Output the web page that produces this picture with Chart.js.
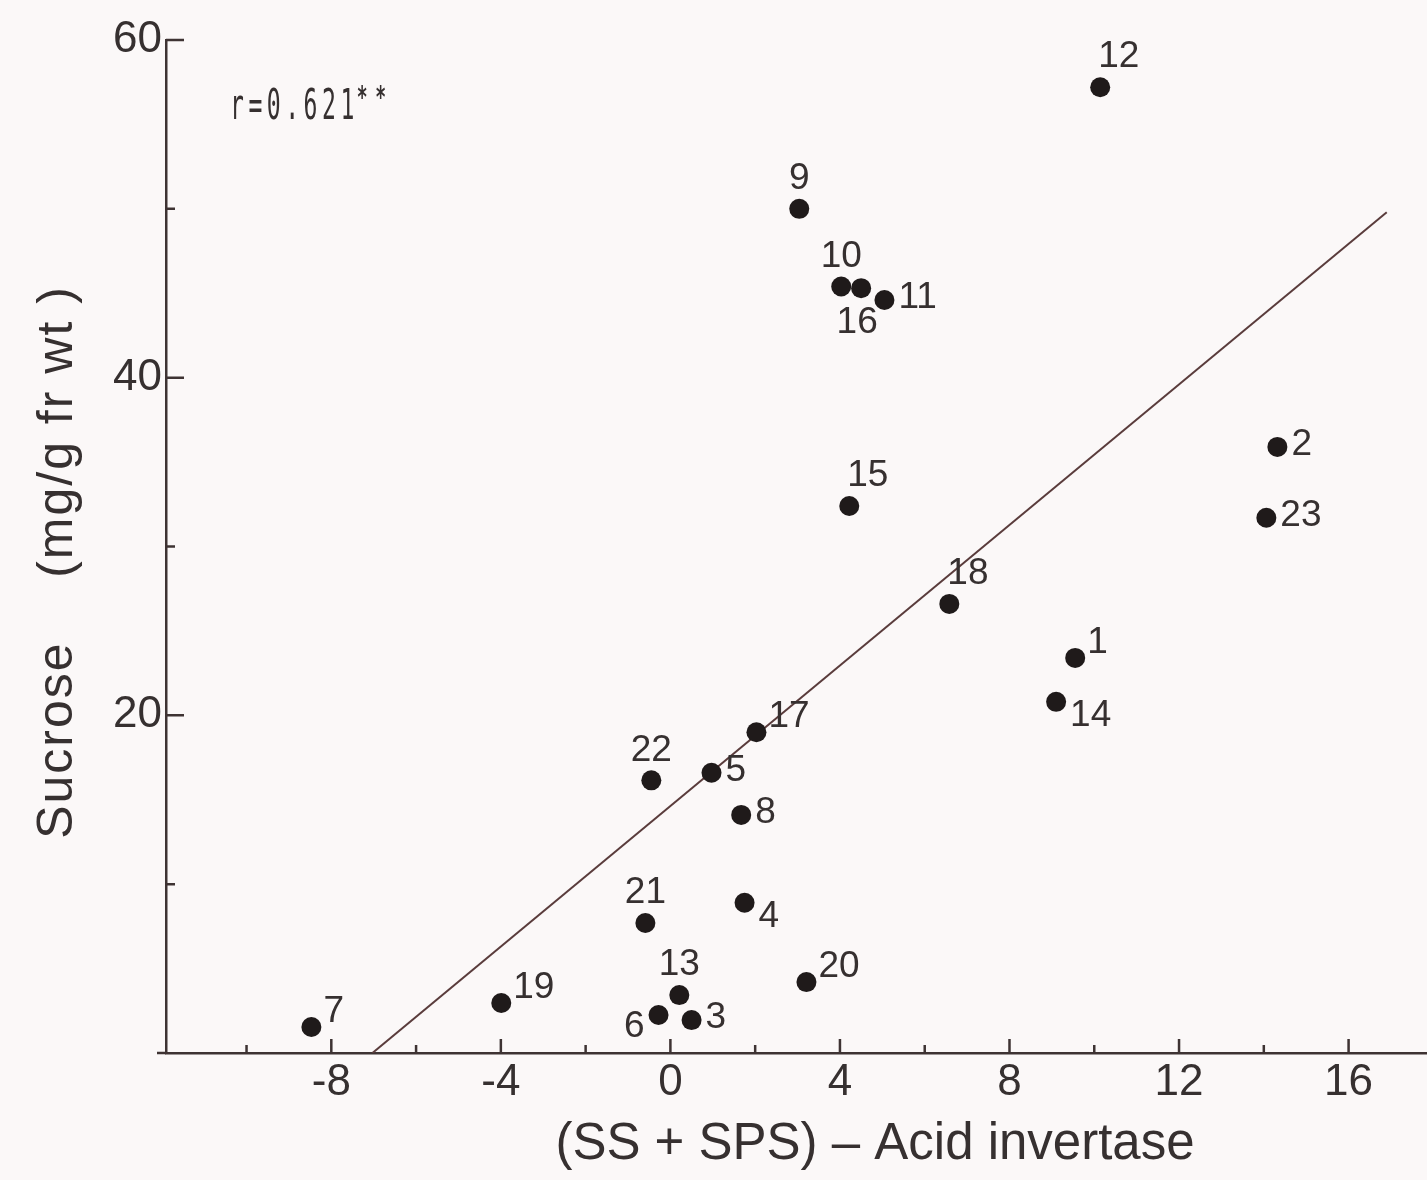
<!DOCTYPE html>
<html>
<head>
<meta charset="utf-8">
<script src="https://cdn.jsdelivr.net/npm/chart.js@4.4.1/dist/chart.umd.min.js"></script>
<style>
  html, body { margin: 0; padding: 0; background: #fbf8f8; }
  canvas { display: block; }
</style>
</head>
<body>
<canvas id="chart" width="1427" height="1180"></canvas>
<script>
// Sample numbers and their measured values
const sampleIds = ['1','2','3','4','5','6','7','8','9','10','11','12',
                   '13','14','15','16','17','18','19','20','21','22','23'];
// (SS + SPS) - acid invertase activity
const enzymeBalance = [9.55, 14.32, 0.50, 1.75, 0.97, -0.28, -8.47, 1.67, 3.04, 4.03, 5.05, 10.14,
                       0.21, 9.10, 4.22, 4.50, 2.03, 6.58, -3.99, 3.21, -0.59, -0.45, 14.06];
// Sucrose content, mg/g fresh weight
const sucroseContent = [23.4, 35.9, 1.95, 8.9, 16.6, 2.25, 1.54, 14.1, 50.0, 45.4, 44.6, 57.2,
                        3.43, 20.8, 32.4, 45.3, 19.0, 26.6, 2.96, 4.2, 7.7, 16.15, 31.7];
// Where each sample number sits around its dot
const labelSpots = ['ne','e','e','se','e','sw','ne','e','n','n','e','nne',
                    'n','se','nne','s','ne','nne','ne','ne','n','n','e'];

// Regression line end points
const fitLineX = [-7.03, 16.9];
const fitLineY = [0, 49.8];

// Axis ticks
const xTickValues = [-10, -8, -6, -4, -2, 0, 2, 4, 6, 8, 10, 12, 14, 16];
const xTickLabels = ['', '-8', '', '-4', '', '0', '', '4', '', '8', '', '12', '', '16'];
const yTickValues = [10, 20, 30, 40, 50, 60];
const yTickLabels = ['', '20', '', '40', '', '60'];

const correlationText = 'r=0.621';
const xTitle = '(SS + SPS) \u2013 Acid invertase';
const yTitle = 'Sucrose    (mg/g fr wt )';

const INK = '#363030';
const AXIS = '#3e3333';
const LINE = '#5a3c3c';
const FONT = '"Liberation Sans", Arial, sans-serif';

const spotOffsets = {
  e:   { dx: 14, dy: -2,  align: 'left' },
  ne:  { dx: 12, dy: -15, align: 'left' },
  nne: { dx: -2, dy: -30, align: 'left' },
  n:   { dx: 0,  dy: -30, align: 'center' },
  s:   { dx: -4, dy: 35,  align: 'center' },
  se:  { dx: 14, dy: 14,  align: 'left' },
  sw:  { dx: -14, dy: 12, align: 'right' }
};

const points = enzymeBalance.map((x, i) => ({ x, y: sucroseContent[i] }));
const fitLine = fitLineX.map((x, i) => ({ x, y: fitLineY[i] }));

const paperPlugin = {
  id: 'paper',
  beforeDraw(chart) {
    const ctx = chart.ctx;
    ctx.save();
    ctx.fillStyle = '#fbf8f8';
    ctx.fillRect(0, 0, chart.width, chart.height);
    ctx.restore();
  }
};

// Tick marks pointing into the plot
const innerTicksPlugin = {
  id: 'innerTicks',
  afterDraw(chart) {
    const { ctx, chartArea } = chart;
    const xs = chart.scales.x, ys = chart.scales.y;
    ctx.save();
    ctx.strokeStyle = AXIS;
    ctx.lineWidth = 2.5;
    ctx.beginPath();
    // small overhang of the base line past the vertical axis
    ctx.moveTo(chartArea.left - 9, chartArea.bottom);
    ctx.lineTo(chartArea.left, chartArea.bottom);
    xTickValues.forEach(v => {
      const px = xs.getPixelForValue(v);
      const len = v % 4 === 0 ? 14 : 8;
      ctx.moveTo(px, chartArea.bottom);
      ctx.lineTo(px, chartArea.bottom - len);
    });
    yTickValues.forEach(v => {
      const py = ys.getPixelForValue(v);
      const len = v % 20 === 0 ? 18 : 9;
      ctx.moveTo(chartArea.left, py);
      ctx.lineTo(chartArea.left + len, py);
    });
    ctx.stroke();
    ctx.restore();
  }
};

// Sample numbers beside the dots
const sampleLabelPlugin = {
  id: 'sampleLabels',
  afterDatasetsDraw(chart) {
    const ctx = chart.ctx;
    const meta = chart.getDatasetMeta(0);
    ctx.save();
    ctx.fillStyle = INK;
    ctx.font = '37px ' + FONT;
    ctx.textBaseline = 'middle';
    meta.data.forEach((el, i) => {
      const o = spotOffsets[labelSpots[i]];
      ctx.textAlign = o.align;
      ctx.fillText(sampleIds[i], el.x + o.dx, el.y + o.dy);
    });
    ctx.restore();
  }
};

// Axis titles and the correlation note
const textPlugin = {
  id: 'texts',
  afterDraw(chart) {
    const { ctx, chartArea } = chart;
    ctx.save();
    ctx.fillStyle = INK;
    ctx.font = '51px ' + FONT;
    ctx.textAlign = 'center';
    ctx.textBaseline = 'middle';
    ctx.fillText(xTitle, 875, chartArea.bottom + 92);

    ctx.save();
    ctx.translate(58, chartArea.top + 522);
    ctx.rotate(-Math.PI / 2);
    ctx.font = '50px ' + FONT;
    ctx.letterSpacing = '2px';
    ctx.fillText(yTitle, 0, 0);
    ctx.restore();

    // condensed typewriter-style note
    ctx.font = '42px "DejaVu Sans Mono", monospace';
    ctx.textAlign = 'left';
    ctx.textBaseline = 'alphabetic';
    const baseX = chartArea.left + 64, baseY = chartArea.top + 79;
    const pitch = 18.4;
    [...correlationText].forEach((ch, i) => {
      ctx.save();
      ctx.translate(baseX + i * pitch, baseY);
      ctx.scale(0.55, 1);
      ctx.fillText(ch, 0, 0);
      ctx.restore();
    });
    ctx.font = 'bold 30px "DejaVu Sans Mono", monospace';
    for (let k = 0; k < 2; k++) {
      ctx.save();
      ctx.translate(baseX + (correlationText.length + k) * pitch - 2, baseY - 12);
      ctx.scale(0.6, 1);
      ctx.fillText('*', 0, 0);
      ctx.restore();
    }
    ctx.restore();
  }
};

new Chart(document.getElementById('chart'), {
  type: 'scatter',
  data: {
    datasets: [
      {
        data: points,
        pointRadius: 10,
        pointHoverRadius: 10,
        backgroundColor: '#1f1a1a',
        borderWidth: 0,
        order: 0,
        clip: false
      },
      {
        type: 'line',
        data: fitLine,
        borderColor: LINE,
        borderWidth: 2,
        pointRadius: 0,
        fill: false,
        order: 1
      }
    ]
  },
  options: {
    responsive: false,
    animation: false,
    devicePixelRatio: 1,
    layout: { autoPadding: false, padding: { top: 40, right: 0, left: 0, bottom: 0 } },
    plugins: { legend: { display: false }, tooltip: { enabled: false } },
    scales: {
      x: {
        type: 'linear',
        min: -11.9,
        max: 17.85,
        grid: { display: false, drawTicks: false },
        border: { display: true, color: AXIS, width: 2.5 },
        afterBuildTicks: s => { s.ticks = xTickValues.map(v => ({ value: v })); },
        afterFit: s => { s.height = 127; s.paddingLeft = 0; s.paddingRight = 0; },
        ticks: {
          autoSkip: false,
          maxRotation: 0,
          padding: 3,
          color: INK,
          font: { family: FONT, size: 44 },
          callback: v => xTickLabels[xTickValues.indexOf(v)] ?? ''
        }
      },
      y: {
        type: 'linear',
        min: 0,
        max: 60,
        grid: { display: false, drawTicks: false },
        border: { display: true, color: AXIS, width: 2.5 },
        afterBuildTicks: s => { s.ticks = yTickValues.map(v => ({ value: v })); },
        afterFit: s => { s.width = 166; s.paddingTop = 0; s.paddingBottom = 0; },
        ticks: {
          autoSkip: false,
          padding: 4,
          color: INK,
          font: { family: FONT, size: 44 },
          callback: v => yTickLabels[yTickValues.indexOf(v)] ?? ''
        }
      }
    }
  },
  plugins: [paperPlugin, innerTicksPlugin, sampleLabelPlugin, textPlugin]
});
</script>
</body>
</html>
